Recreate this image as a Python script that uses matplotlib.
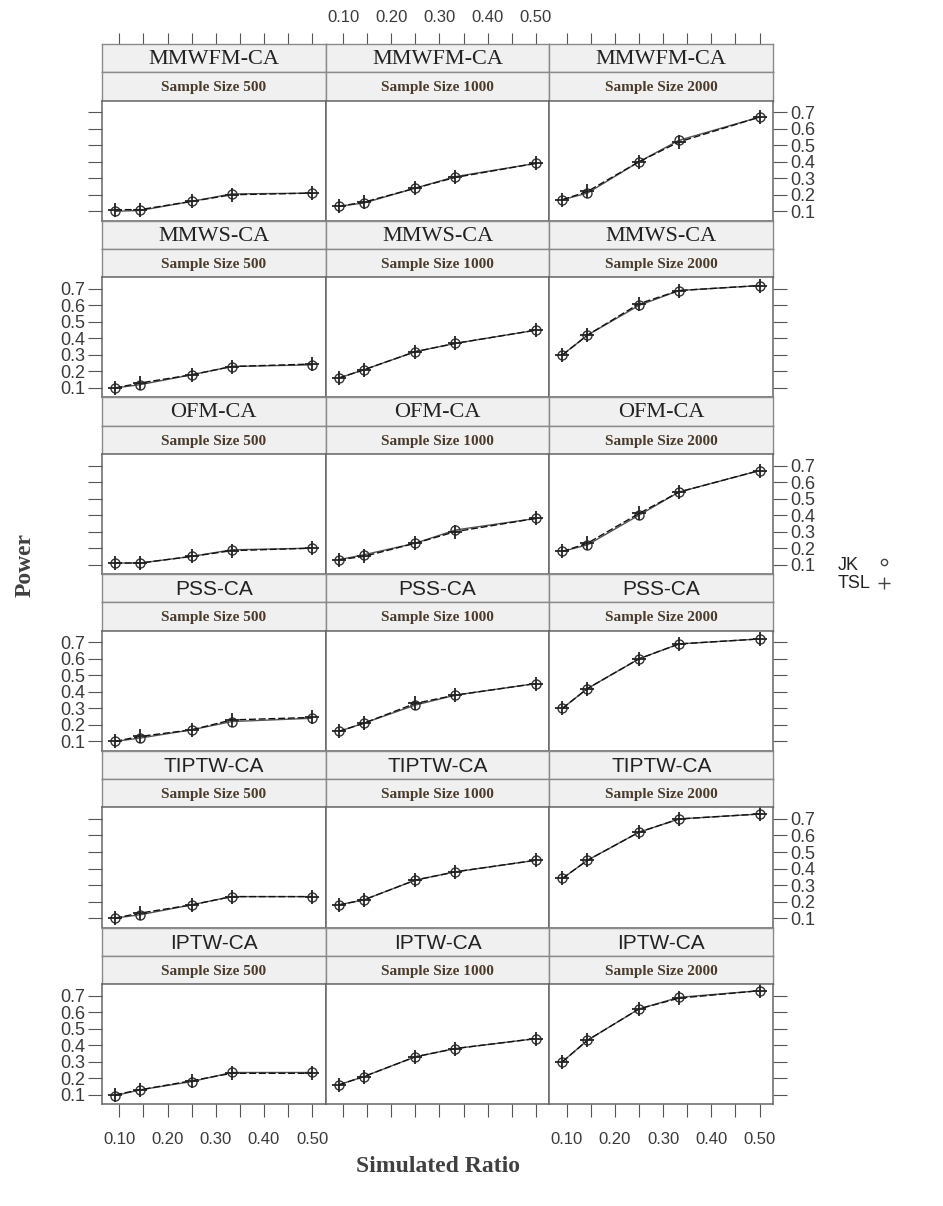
import matplotlib
matplotlib.use("Agg")
import matplotlib.pyplot as plt

plt.rcParams["font.family"] = ["Liberation Sans", "DejaVu Sans"]

# simulated ratios (1:10, 1:6, 1:3, 1:2, 1:1)
ratio = [0.091, 0.143, 0.25, 0.333, 0.5]

methods = ["MMWFM-CA", "MMWS-CA", "OFM-CA", "PSS-CA", "TIPTW-CA", "IPTW-CA"]
sizes = ["500", "1000", "2000"]

# power per method, one list per sample size (500, 1000, 2000)
jk_mmwfm = [[0.10, 0.105, 0.16, 0.205, 0.21], [0.13, 0.15, 0.24, 0.31, 0.39], [0.17, 0.21, 0.40, 0.53, 0.67]]
tsl_mmwfm = [[0.11, 0.11, 0.16, 0.20, 0.21], [0.13, 0.155, 0.24, 0.305, 0.39], [0.17, 0.22, 0.40, 0.52, 0.67]]
jk_mmws = [[0.10, 0.12, 0.18, 0.23, 0.24], [0.16, 0.21, 0.32, 0.37, 0.45], [0.30, 0.42, 0.60, 0.69, 0.72]]
tsl_mmws = [[0.10, 0.13, 0.18, 0.23, 0.245], [0.16, 0.21, 0.32, 0.37, 0.45], [0.30, 0.42, 0.61, 0.69, 0.72]]
jk_ofm = [[0.11, 0.11, 0.15, 0.19, 0.20], [0.13, 0.16, 0.23, 0.31, 0.38], [0.18, 0.22, 0.40, 0.54, 0.67]]
tsl_ofm = [[0.11, 0.11, 0.15, 0.185, 0.20], [0.13, 0.15, 0.23, 0.30, 0.38], [0.18, 0.23, 0.41, 0.54, 0.67]]
jk_pss = [[0.10, 0.12, 0.17, 0.22, 0.24], [0.16, 0.21, 0.32, 0.38, 0.45], [0.30, 0.42, 0.60, 0.69, 0.72]]
tsl_pss = [[0.10, 0.13, 0.17, 0.23, 0.245], [0.16, 0.21, 0.33, 0.38, 0.45], [0.30, 0.42, 0.60, 0.69, 0.72]]
jk_tiptw = [[0.10, 0.12, 0.18, 0.23, 0.23], [0.18, 0.21, 0.33, 0.38, 0.45], [0.34, 0.45, 0.62, 0.70, 0.73]]
tsl_tiptw = [[0.10, 0.13, 0.18, 0.23, 0.23], [0.18, 0.21, 0.33, 0.38, 0.45], [0.34, 0.45, 0.62, 0.70, 0.73]]
jk_iptw = [[0.095, 0.13, 0.18, 0.235, 0.235], [0.16, 0.21, 0.33, 0.38, 0.44], [0.30, 0.43, 0.62, 0.69, 0.73]]
tsl_iptw = [[0.10, 0.13, 0.185, 0.23, 0.23], [0.16, 0.21, 0.33, 0.38, 0.44], [0.30, 0.43, 0.62, 0.685, 0.73]]

jk = [jk_mmwfm, jk_mmws, jk_ofm, jk_pss, jk_tiptw, jk_iptw]
tsl = [tsl_mmwfm, tsl_mmws, tsl_ofm, tsl_pss, tsl_tiptw, tsl_iptw]

x_ticks = [0.10, 0.15, 0.20, 0.25, 0.30, 0.35, 0.40, 0.45, 0.50]
x_labels = ["0.10", "", "0.20", "", "0.30", "", "0.40", "", "0.50"]
y_ticks = [0.1, 0.2, 0.3, 0.4, 0.5, 0.6, 0.7]
y_labels = ["0.1", "0.2", "0.3", "0.4", "0.5", "0.6", "0.7"]

W, H = 943, 1206
fig = plt.figure(figsize=(W / 100, H / 100), dpi=100)

left, col_w = 102, 223.7
top0, row_h, strip_h = 44, 176.7, 28.3
xlim = (0.064, 0.528)
ylim = (0.043, 0.77)

serif_methods = {"MMWFM-CA", "MMWS-CA", "OFM-CA"}
tick_col = "#555555"
lab_col = "#3a3a3a"
box_col = "#666666"


def fig_rect(x, y, w, h):
    return [x / W, 1 - (y + h) / H, w / W, h / H]


for r, meth in enumerate(methods):
    row_top = top0 + r * row_h
    for c, size in enumerate(sizes):
        x0 = left + c * col_w
        # strips
        for k, (label, y) in enumerate([(meth, row_top), ("Sample Size " + size, row_top + strip_h)]):
            sax = fig.add_axes(fig_rect(x0, y, col_w, strip_h))
            sax.set_facecolor("#f0f0f0")
            sax.set_xlim(xlim)
            sax.set_yticks([])
            sax.set_xticks([])
            for sp in sax.spines.values():
                sp.set_color("#8a8a8a")
                sp.set_linewidth(1.0)
            if k == 0:
                fam = "Liberation Serif" if meth in serif_methods else "Liberation Sans"
                fs = 16 if meth in serif_methods else 15
                sax.text(0.5, 0.45, label, ha="center", va="center", transform=sax.transAxes,
                         fontsize=fs, family=fam, color="#222222")
                if r == 0:
                    sax.set_xticks(x_ticks)
                    sax.tick_params(axis="x", bottom=False, top=True, labeltop=(c == 1),
                                    labelbottom=False, length=8, color=tick_col,
                                    labelsize=12, labelcolor=lab_col, pad=6)
                    sax.set_xticklabels(x_labels if c == 1 else [""] * len(x_ticks))
            else:
                sax.text(0.5, 0.45, label, ha="center", va="center", transform=sax.transAxes,
                         fontsize=11, family="Liberation Serif", color="#4a3b2c", weight="bold")

        ax = fig.add_axes(fig_rect(x0, row_top + 2 * strip_h, col_w, row_h - 2 * strip_h))
        ax.plot(ratio, jk[r][c], color="#555555", lw=1.0, marker="o", ms=6.5,
                mfc="none", mec="#333333", mew=1.0)
        ax.plot(ratio, tsl[r][c], color="#111111", lw=1.0, ls=(0, (5, 2)), marker="+",
                ms=10, mec="#222222", mew=1.3)
        ax.set_xlim(xlim)
        ax.set_ylim(ylim)
        for sp in ax.spines.values():
            sp.set_color(box_col)
            sp.set_linewidth(1.1)

        # x ticks only on the bottom row
        ax.set_xticks(x_ticks)
        if r == len(methods) - 1:
            ax.set_xticklabels(x_labels if c != 1 else [""] * len(x_ticks))
            ax.tick_params(axis="x", bottom=True, top=False, length=9, color=tick_col,
                           labelsize=12, labelcolor=lab_col, pad=11)
        else:
            ax.tick_params(axis="x", bottom=False, top=False, labelbottom=False)

        # y ticks on outer columns, labels alternate left/right
        ax.set_yticks(y_ticks)
        ax.set_yticklabels(y_labels)
        left_lab = (r % 2 == 1)
        ax.tick_params(axis="y", left=(c == 0), right=(c == 2),
                       labelleft=(c == 0 and left_lab), labelright=(c == 2 and not left_lab),
                       length=10, color=tick_col, labelsize=13, labelcolor=lab_col, pad=2)

fig.text(25 / W, 1 - 565 / H, "Power", rotation=90, ha="center", va="center",
         fontsize=17, family="Liberation Serif", weight="bold", color="#404040")
fig.text(438 / W, 1 - 1167 / H, "Simulated Ratio", ha="center", va="center",
         fontsize=17, family="Liberation Serif", weight="bold", color="#404040")

# legend
fig.text(838 / W, 1 - 565 / H, "JK", ha="left", va="center", fontsize=13,
         family="Liberation Sans", color="#222222")
fig.text(838 / W, 1 - 584 / H, "TSL", ha="left", va="center", fontsize=13,
         family="Liberation Sans", color="#222222")
lax = fig.add_axes([0, 0, 1, 1], facecolor="none")
lax.set_xlim(0, W)
lax.set_ylim(H, 0)
lax.axis("off")
lax.plot([884], [562], marker="o", ms=4.5, mfc="none", mec="#444444", mew=1.0)
lax.plot([884], [583], marker="+", ms=8, mec="#444444", mew=1.0)

fig.savefig("out.png", dpi=100)
